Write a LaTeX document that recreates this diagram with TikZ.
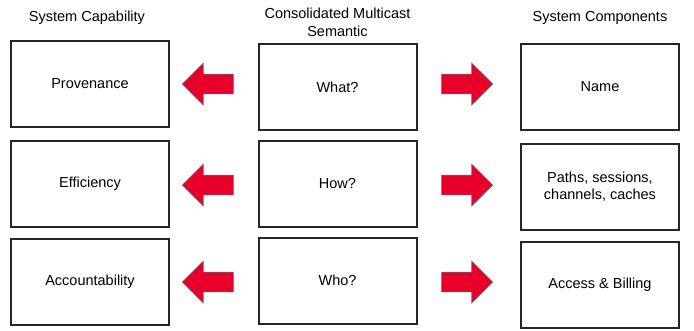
\documentclass[tikz,border=0pt]{standalone}
\usepackage{fontspec}
\setmainfont{Liberation Sans}
\usetikzlibrary{shapes.arrows}
\definecolor{arrowred}{RGB}{232,0,42}

\begin{document}
\begin{tikzpicture}[x=1pt,y=-1pt,
		box/.style={draw=black!85,line width=2pt,minimum width=158pt,minimum height=86pt,inner sep=0pt,align=center,font=\fontsize{14.5}{17}\selectfont},
		title/.style={align=center,font=\fontsize{14.5}{18}\selectfont},
		redarrow/.style={single arrow,fill=arrowred,draw=black!60,line width=0.6pt,inner xsep=0pt,inner ysep=9.5pt,single arrow head extend=11pt,minimum height=51pt,anchor=tip}]
		\useasboundingbox (0,0) rectangle (694,330);
		\node[title] (captitle) at (87,18) {System Capability};
		\node[title] (semtitle) at (337.5,22) {Consolidated Multicast\\Semantic};
		\node[title] (comptitle) at (600,18) {System Components};
		\node[box] (prov) at (90,84) {Provenance};
		\node[box] (eff) at (90,184) {Efficiency};
		\node[box] (acc) at (90,281.5) {Accountability};
		\node[box] (what) at (337.5,87) {What?};
		\node[box] (how) at (337.5,184) {How?};
		\node[box] (who) at (337.5,280.5) {Who?};
		\node[box] (name) at (600,87) {Name};
		\node[box] (paths) at (600,187) {Paths, sessions,\\channels, caches};
		\node[box] (billing) at (600,284.5) {Access \& Billing};
		\node[redarrow,shape border rotate=180] (a1) at (182,84) {};
		\node[redarrow,shape border rotate=180] (a2) at (182,185) {};
		\node[redarrow,shape border rotate=180] (a3) at (182,282) {};
		\node[redarrow] (b1) at (493,84) {};
		\node[redarrow] (b2) at (493,185) {};
		\node[redarrow] (b3) at (493,282) {};
	\end{tikzpicture}
\end{document}
